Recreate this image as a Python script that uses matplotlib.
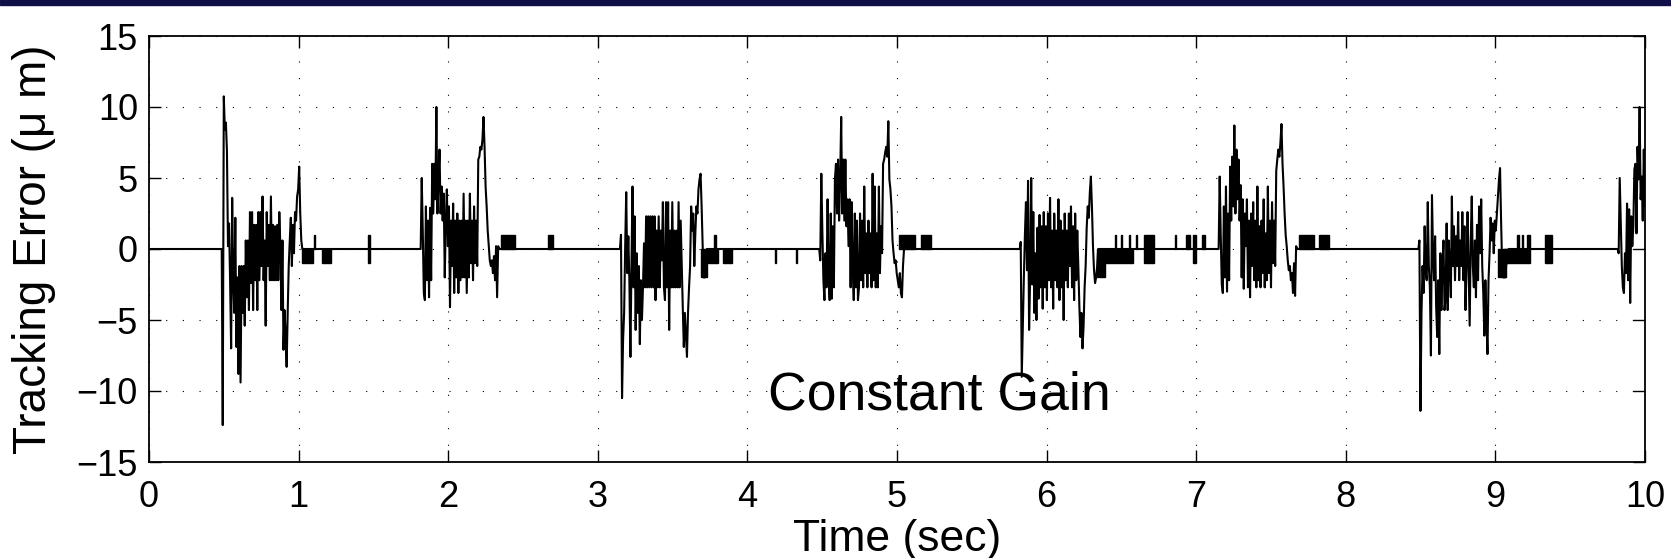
import numpy as np
import matplotlib.pyplot as plt
from matplotlib.patches import Rectangle

plt.rcParams['font.family'] = ['Liberation Sans', 'DejaVu Sans']

DT = 0.007  # sample spacing inside a burst (sec)

# start of each error burst (sec)
burst_starts = [0.486, 1.816, 3.148, 4.48, 5.82, 7.15, 8.485, 9.817]

# tracking error samples inside each burst (um)
b1 = [-12.4, 10.75, 8.4, 8.9, 6.9, 0.2, 1.8, -2.2, -7.0, 3.6, -2.2, -4.5, 2.2, -6.9, -2.0,
      -8.8, -1.2, -9.4, -1.2, -4.5, -1.2, -5.4, 0.6, -3.4, 0.6, -4.3, 2.6, -2.4, 2.6, -4.3,
      1.7, -2.2, 1.7, -4.3, 2.6, -2.2, 2.6, -1.2, 3.7, -2.2, 0.6, -5.4, 2.6, -1.2, 1.7, -2.2,
      3.7, -2.2, 1.7, -2.2, 1.6, -2.2, 1.7, -2.2, 2.6, 0.2, -4.3, 0.6, -7.1, -4.3, -6.0, -8.3,
      -4.5, -1.2, 0.6, 2.2, -1.2, 1.7, -0.3, 2.6, 2.0, 3.7, 4.2, 5.8, 2.5, 0.6]
b2 = [5.0, 1.3, -3.1, -3.6, 3.0, -2.2, 2.0, -3.4, 2.9, -2.2, 6.0, 2.5, 6.0, 3.5, 10.0,
      2.5, 4.9, 7.0, 2.5, 4.4, 2.0, 3.9, -2.0, 2.0, 4.2, 0.2, 3.0, -4.1, 2.0, -1.2, 3.2,
      -3.1, 2.0, -2.0, 2.5, -3.1, 2.0, -2.2, 2.0, -2.0, 3.9, -2.0, 2.0, -3.1, 2.0, -2.0, 3.9,
      -1.0, 2.0, -2.2, 3.0, -1.0, 2.0, -1.2, 6.3, 6.5, 7.2, 7.0, 7.7, 9.3, 7.2, 4.4, 3.0,
      1.3, 0.2, -0.8, -1.2, -0.8, -1.7, -0.5, -2.2, 0.2, -3.4, 0.2]
b3 = [1.0, -10.5, -6.4, -4.5, 0.2, 4.0, -1.7, 0.9, -2.2, -7.6, -1.2, 4.4, -2.7, 2.3, -5.7,
      -0.3, -4.5, -1.2, -6.7, -2.2, -5.0, -2.7, 0.4, -2.7, 2.3, -2.7, 2.3, -2.7, 2.3, -2.7,
      2.3, -2.7, 2.3, -3.6, 1.3, -2.7, 2.3, -2.7, 1.3, -0.8, 3.3, -2.7, -3.6, 3.3, -2.7, 3.3,
      -5.7, 1.3, -2.7, 3.3, -2.7, 1.3, -2.7, 1.3, -2.7, 3.3, -2.7, 2.0, -1.2, -4.1, -6.9,
      -4.5, -6.0, -7.6, -4.5, -2.7, -1.2, 3.0, 1.3, 2.5, -1.2, 1.1, 3.0, 2.5, 4.2, 4.9, 5.3,
      3.0, 0.2, -2.0, -2.0, -1.2]
b4 = [-0.8, 5.3, 1.3, -2.2, -3.6, -0.3, -2.7, 3.5, -2.2, -3.6, 2.5, -3.5, 1.6, -2.7, 4.9,
      6.0, 2.5, 6.3, 2.0, 4.9, 9.3, 2.5, 6.3, 2.0, 6.3, 1.6, 3.5, 0.2, 3.5, -2.7, 3.3, -1.2,
      -3.6, 2.5, -2.7, 2.0, -3.6, -2.7, 2.5, -2.2, 2.0, -2.7, 4.4, -1.7, 1.1, -2.7, 2.0, -1.7,
      1.1, -2.7, 5.3, -2.2, 4.4, -2.7, 1.1, -2.7, 4.4, -1.7, 1.6, -0.3, 6.0, 6.3, 6.8, 7.2,
      6.5, 9.0, 4.9, 4.2, 3.0, 0.6, -0.3, -1.0, -0.8, -1.7, -2.2, -2.7, -1.7, -3.1, -3.4, -1.2]
b5 = [0.5, -9.0, -5.5, -2.0, 1.0, 3.3, -1.5, 4.8, -5.7, -2.0, 5.0, -2.5, 2.6, -4.5, -0.3,
      -5.0, 1.5, -3.5, 2.4, -2.7, 1.6, -4.2, 2.6, -2.7, 1.6, -3.6, 2.5, -2.2, 3.6, -2.7, 1.3,
      -4.2, 2.5, -2.2, 1.3, -2.7, 3.5, -3.6, 2.0, -2.7, 1.3, -5.0, 2.5, -2.2, 1.3, -2.7, 2.5,
      -1.2, 3.0, -2.7, 1.6, -3.6, 2.5, -2.2, 1.3, -1.2, -4.0, -6.2, -4.5, -7.0, -5.5, -2.7,
      -1.2, 1.5, 3.0, 2.2, 4.0, 5.1, 3.0, 0.2, -1.5, -2.4, -2.0, -1.2]
b6 = [5.1, 1.0, -2.5, -3.1, 3.0, -2.0, 4.4, -3.0, 2.5, -2.2, 5.8, 2.0, 6.5, 3.0, 8.7, 2.5,
      7.0, 3.5, 6.3, 2.0, 4.5, -2.0, 3.5, -2.8, 2.5, 0.2, 3.5, -2.7, 2.0, -3.4, 2.5, -1.2,
      3.3, -2.2, 2.0, -2.7, 4.4, -2.2, 1.6, -2.7, 2.0, -1.7, 3.5, -2.7, 1.1, -2.2, 4.4, -1.7,
      2.0, -2.7, 3.3, -1.0, 2.0, -1.2, 5.5, 6.3, 7.0, 6.5, 7.5, 8.8, 6.0, 4.4, 2.5, 1.0, 0.2,
      -0.8, -1.5, -1.2, -2.2, -1.7, -3.1, -1.0, -3.3, 0.2]
b7 = [0.6, -11.4, -4.5, -1.2, -3.1, 1.6, -1.7, -2.2, 3.3, -1.2, -2.7, -7.5, 3.8, -0.3, -2.2,
      0.9, -4.1, -6.2, -2.2, -7.4, -0.3, -4.3, -1.2, 0.6, -4.3, -3.4, 1.8, -4.3, 0.6, -1.2,
      -3.4, 3.7, -1.2, 1.6, -2.2, 0.9, -1.2, 2.6, -2.2, 0.6, -1.2, 2.6, -2.2, 1.6, -4.3, -1.2,
      2.6, -1.2, -5.4, 0.6, 3.7, -1.2, -2.7, 0.6, -3.4, 1.7, -2.2, 3.0, -0.3, 3.5, -1.2, -3.1,
      -6.1, -2.2, -5.0, -7.4, -2.2, -0.3, 2.2, 0.6, 1.8, -0.3, 2.0, 1.3, 2.5, 3.7, 4.9, 5.7,
      2.0, -1.2, -2.0, -2.0, -2.0, -1.0, -1.0]
b8 = [-0.3, 5.0, 2.0, -1.2, -2.7, -3.1, -0.3, -1.7, 3.2, -2.2, 2.8, -3.8, 2.3, 0.2, 1.6,
      5.6, 6.0, 1.1, 7.2, 4.9, 10.0, 3.5, 5.1, 2.0, 7.0, 3.0, 5.1]
bursts = [b1, b2, b3, b4, b5, b6, b7, b8]

# one-count quantisation chatter between bursts: start, end (sec), low, high (um)
chat_t0 = [1.020, 1.100, 1.154, 1.466, 2.350, 2.669, 3.690, 3.739, 3.780, 3.835, 4.184,
           4.322, 5.015, 5.160, 6.340, 6.390, 6.460, 6.500, 6.550, 6.600, 6.650, 6.860,
           6.930, 6.980, 7.040, 7.685, 7.820, 9.020, 9.057, 9.142, 9.175, 9.209, 9.332]
chat_t1 = [1.095, 1.107, 1.214, 1.480, 2.445, 2.703, 3.730, 3.805, 3.787, 3.895, 4.191,
           4.329, 5.120, 5.227, 6.390, 6.580, 6.467, 6.507, 6.557, 6.607, 6.720, 6.867,
           6.960, 7.000, 7.060, 7.785, 7.890, 9.070, 9.231, 9.158, 9.187, 9.231, 9.376]
chat_lo = [-1, 0, -1, -1, 0, 0, -2, -1, 0, -1, -1,
           -1, 0, 0, -2, -1, 0, 0, 0, 0, -1, 0,
           0, -1, 0, 0, 0, -2, -1, 0, 0, 0, -1]
chat_hi = [0, 1, 0, 1, 1, 1, 0, 0, 1, 0, 0,
           0, 1, 1, 0, 0, 1, 1, 1, 1, 1, 1,
           1, 1, 1, 1, 1, 0, 0, 1, 1, 1, 1]

# assemble the time series: zero between bursts
t = [0.0]
e = [0.0]
for start, vals in zip(burst_starts, bursts):
    t.append(start)
    e.append(0.0)
    for i, v in enumerate(vals):
        t.append(start + DT * (i + 1))
        e.append(v)
    t.append(start + DT * (len(vals) + 1))
    e.append(0.0)
t.append(10.0)
e.append(0.0)

fig = plt.figure(figsize=(16.71, 5.58), dpi=100)
fig.add_artist(Rectangle((0, 1 - 5 / 558), 1, 5 / 558, transform=fig.transFigure,
                         color='#110f48', zorder=10))
ax = fig.add_axes([149 / 1671, 96 / 558, 1496 / 1671, 426 / 558])

ax.plot(t, e, color='k', linewidth=1.5)
lo = np.array(chat_lo, dtype=float)
hi = np.array(chat_hi, dtype=float)
t0 = np.array(chat_t0)
t1 = np.array(chat_t1)
ax.bar(t0, hi - lo, width=t1 - t0, bottom=lo, align='edge', color='k',
       edgecolor='k', linewidth=1.0)

ax.set_xlim(0, 10)
ax.set_ylim(-15, 15)
ax.set_xticks(range(0, 11))
ax.set_yticks(range(-15, 16, 5))
ax.tick_params(direction='in', length=8.5, width=1.0, top=True, right=True, labelsize=26)
ax.tick_params(axis='x', pad=13)
ax.tick_params(axis='y', pad=8)
ax.grid(True, linestyle=(0, (1, 14)), linewidth=0.8, color='k')
for sp in ax.spines.values():
    sp.set_linewidth(1.3)

ax.set_xlabel('Time (sec)', fontsize=32)
ax.xaxis.set_label_coords(0.5, -0.133)
ax.set_ylabel('Tracking Error (μ m)', fontsize=33)
ax.yaxis.set_label_coords(-0.062, 0.5)
ax.text(4.14, -11.27, 'Constant Gain', fontsize=38.5, va='baseline')

fig.savefig('out.png', dpi=100)
